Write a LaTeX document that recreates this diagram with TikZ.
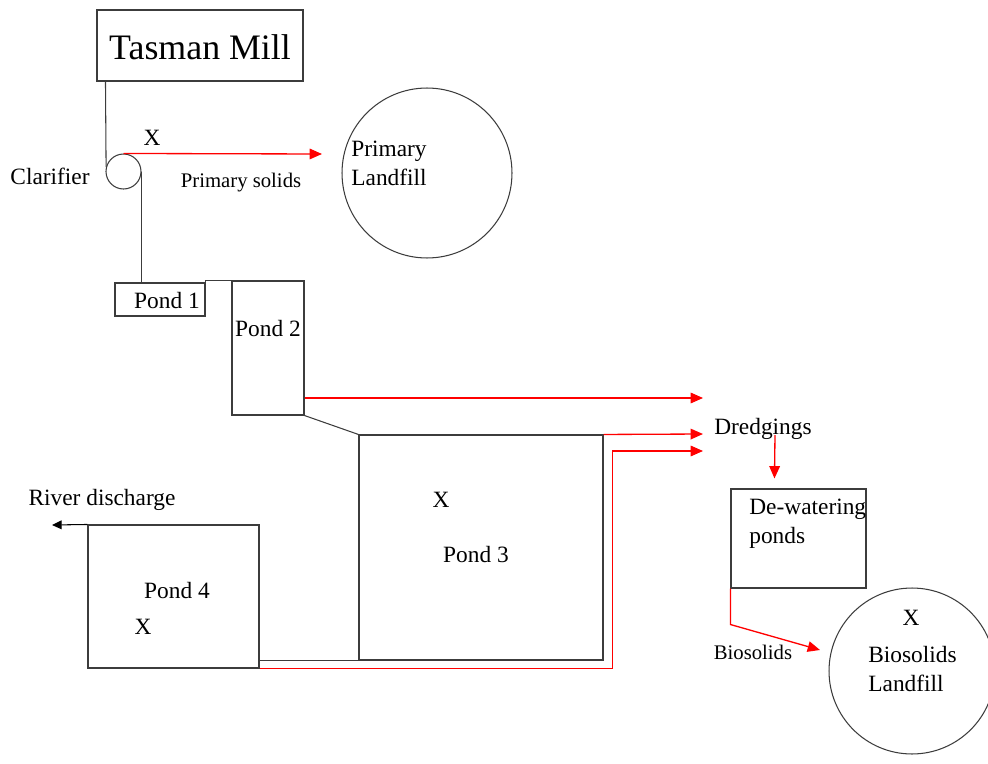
\documentclass[tikz,border=0pt]{standalone}
\usepackage{fontspec}
\setmainfont{Liberation Serif}
\usepackage{xcolor}
\usetikzlibrary{arrows.meta,calc,positioning,fit}
\definecolor{flowred}{RGB}{255,0,0}
\definecolor{linegray}{RGB}{60,60,60}

\begin{document}
\begin{tikzpicture}[x=0.02cm,y=-0.02cm,>={Triangle[length=7pt,width=6pt]},
  box/.style={draw=linegray,line width=0.6pt,inner sep=0pt},
  pipe/.style={draw=linegray,line width=0.6pt},
  flow/.style={->,flowred,line width=0.75pt},
  lbl/.style={font=\fontsize{13.3}{16.4}\selectfont,inner sep=0pt},
  sml/.style={font=\fontsize{11.8}{14}\selectfont,inner sep=0pt}]
  \useasboundingbox (0,0) rectangle (988,764);
  \clip (0,0) rectangle (988,764);
  % boxes and circles
  \node[box,fit={(97,10) (303,81)}] (mill) {};
  \node[box,circle,minimum size=0.7cm] (clar) at (123.5,171.5) {};
  \node[box,circle,minimum size=3.4cm] (plf) at (427,173) {};
  \node[box,fit={(115,283) (205,316)}] (pondone) {};
  \node[box,fit={(232,281) (304,415)}] (pondtwo) {};
  \node[box,fit={(359,435) (603,660)}] (pondthree) {};
  \node[box,fit={(88,525) (259,668)}] (pondfour) {};
  \node[box,fit={(731,489) (866,588)}] (dewater) {};
  \node[box,circle,minimum size=3.32cm] (blf) at (912,671) {};
  % labels
  \node[font=\fontsize{20.4}{24}\selectfont,inner sep=0pt] (milltxt) at (200,47) {Tasman Mill};
  \node[lbl] (clartxt) at (50,176) {Clarifier};
  \node[lbl] (xclar) at (152,138) {X};
  \node[sml] (primtxt) at (241,183) {Primary solids};
  \node[lbl,anchor=west,align=left] (plftxt) at (351,163.5) {Primary\\Landfill};
  \node[lbl] (onetxt) at (167,301) {Pond 1};
  \node[lbl] (twotxt) at (268,329) {Pond 2};
  \node[lbl] (xthree) at (441,500) {X};
  \node[lbl] (threetxt) at (476,555) {Pond 3};
  \node[lbl] (fourtxt) at (177,591) {Pond 4};
  \node[lbl] (xfour) at (143,627) {X};
  \node[lbl] (rivertxt) at (102,500) {River discharge};
  \node[lbl] (dredge) at (763,429) {Dredgings};
  \node[lbl,anchor=west,align=left] (dewtxt) at (749,524) {De-watering\\ponds};
  \node[sml] (biotxt) at (753,652) {Biosolids};
  \node[lbl] (xblf) at (911,618) {X};
  \node[lbl,anchor=west,align=left] (blftxt) at (868,669) {Biosolids\\Landfill};
  \coordinate (plin) at (322,154);
  \coordinate (dtop) at (703,398);
  \coordinate (dmid) at (703,434);
  \coordinate (dlow) at (703,451);
  \coordinate (river) at (52,525);
  \coordinate (bioin) at (820,650);
  % water path
  \draw[pipe] (clar.west |- mill.south) -- (clar.165);
  \draw[pipe] (clar.east) -- (clar.east |- pondone.north);
  \draw[pipe] (pondone.north east) |- (pondtwo.north west);
  \draw[pipe] (pondtwo.south east) -- (pondthree.north west);
  \draw[pipe] (pondfour.east |- pondthree.south) -- (pondthree.south west);
  \draw[->,black,line width=0.6pt,>={Triangle[length=5.5pt,width=5pt]}] (pondfour.north west) -- (river);
  % solids
  \draw[flow] (clar.north) -- (plin);
  \draw[flow] (pondtwo.east |- dtop) -- (dtop);
  \draw[flow] (pondthree.north east) -- (dmid);
  \draw[flow] (pondfour.south east) -- ++(353,0) |- (dlow);
  \draw[flow] ($(dredge.center)+(12,6)$) -- ($(dewater.north west)+(44,-10)$);
  \draw[flow] (dewater.south west) -- ++(0,36) -- (bioin);
\end{tikzpicture}
\end{document}
